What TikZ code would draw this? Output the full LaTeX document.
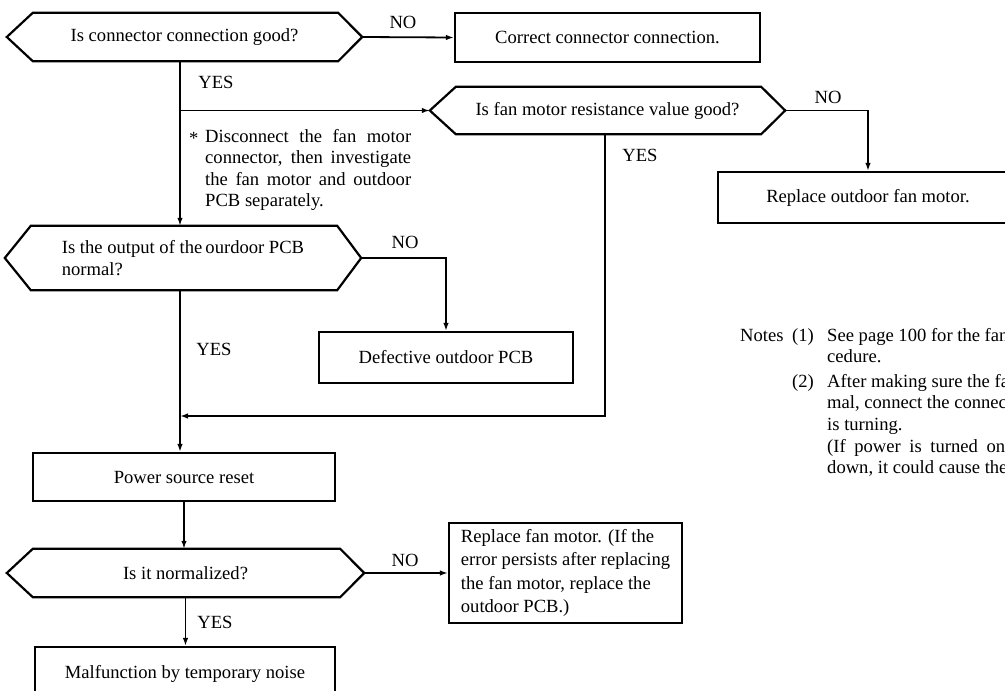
\documentclass[tikz,border=0pt]{standalone}
\usepackage{fontspec}
\setmainfont{Liberation Serif}
\usetikzlibrary{arrows.meta}
\tikzset{
  boxline/.style={line width=2.2pt, line join=miter},
  conn/.style={line width=1.8pt},
  arr/.style={conn, -{Latex[length=8pt,width=5.5pt]}},
  procbox/.style={draw, boxline, rectangle, inner sep=0pt, align=center},
  hexnode/.style={rectangle, inner sep=0pt, align=center},
  lbl/.style={inner sep=0pt},
  txt/.style={inner sep=0pt, anchor=base west},
}
\newcommand{\hexoutline}[1]{%
  \draw[boxline] (#1.west) -- ([xshift=26pt]#1.north west) -- ([xshift=-24pt]#1.north east)
    -- (#1.east) -- ([xshift=-24pt]#1.south east) -- ([xshift=26pt]#1.south west) -- cycle;}
\begin{document}
\begin{tikzpicture}[x=1pt,y=-1pt,font=\fontsize{18.6}{21.5}\selectfont]
\useasboundingbox (0,0) rectangle (1005,691);
\clip (0,0) rectangle (1005,691);
\fill[white] (0,0) rectangle (1005,691);

% decision nodes
\node[hexnode, minimum width=355pt, minimum height=48pt] (h1) at (184.5,37) {Is connector connection good?};
\hexoutline{h1}
\node[hexnode, minimum width=355pt, minimum height=47pt] (h2) at (607.5,110.5) {Is fan motor resistance value good?};
\hexoutline{h2}
\node[hexnode, minimum width=356pt, minimum height=64pt, align=left, font=\fontsize{18.6}{22}\selectfont] (h3) at (183,258) {Is the output of the\,ourdoor PCB\\normal?};
\hexoutline{h3}
\node[hexnode, minimum width=357pt, minimum height=48pt] (h4) at (185.5,573) {Is it normalized?};
\hexoutline{h4}

% process boxes
\node[procbox, minimum width=305pt, minimum height=49pt] (b1) at (607.5,37.5) {Correct connector connection.};
\node[procbox, minimum width=300pt, minimum height=51pt] (rfm) at (868,197.5) {Replace outdoor fan motor.};
\node[procbox, minimum width=254pt, minimum height=51pt] (def) at (446,357.5) {Defective outdoor PCB};
\node[procbox, minimum width=302pt, minimum height=48pt] (pwr) at (184,477) {Power source reset};
\node[procbox, minimum width=233pt, minimum height=100pt, align=left, font=\fontsize{18.6}{23.3}\selectfont] (rfm2) at (565.5,573) {Replace fan motor. (If the\\error persists after replacing\\the fan motor, replace the\\outdoor PCB.)};
\node[procbox, minimum width=300pt, minimum height=53pt] (malf) at (185,673.5) {Malfunction by temporary noise};

% helper coordinates
\coordinate (mx) at (180,0);
\coordinate (ret) at (605,416);

% connectors
\draw[arr] (h1.east) -- (b1.west);
\draw[arr] (h1.south -| mx) -- (h3.north -| mx);
\draw[arr] (mx |- h2.west) -- (h2.west);
\draw[arr] (h2.east) -| (rfm.north);
\draw[arr] (h2.south -| ret) -- (ret) -- (mx |- ret);
\draw[arr] (h3.east) -| (def.north);
\draw[arr] (h3.south -| mx) -- (pwr.north -| mx);
\draw[arr] (pwr.south) -- (pwr.south |- h4.north);
\draw[arr] (h4.east) -- (rfm2.west);
\draw[arr] (h4.south) -- (h4.south |- malf.north);

% branch labels
\node[lbl] (no1) at (403,22) {NO};
\node[lbl] (yes1) at (216,82) {YES};
\node[lbl] (no2) at (828,97) {NO};
\node[lbl] (yes2) at (640,155) {YES};
\node[lbl] (no3) at (405,242) {NO};
\node[lbl] (yes3) at (214,349) {YES};
\node[lbl] (no4) at (405,560) {NO};
\node[lbl] (yes4) at (215,622) {YES};

% remark on the YES branch
\node[txt] (star) at (189,144) {*};
\node[txt] (n1) at (205,142) {\makebox[206pt][s]{Disconnect the fan motor}};
\node[txt] (n2) at (205,163) {\makebox[206pt][s]{connector, then investigate}};
\node[txt] (n3) at (205,185) {\makebox[206pt][s]{the fan motor and outdoor}};
\node[txt] (n4) at (205,206) {PCB separately.};

% notes (cut by the right edge, as in the source)
\node[txt] (nt0) at (740,341) {Notes};
\node[txt] (nt1) at (792,341) {(1)};
\node[txt] (nt1a) at (827,341) {See page 100 for the fan};
\node[txt] (nt1b) at (827,362) {cedure.};
\node[txt] (nt2) at (792,387) {(2)};
\node[txt] (nt2a) at (827,387) {After making sure the fan};
\node[txt] (nt2b) at (827,408) {mal, connect the connector};
\node[txt] (nt2c) at (827,430) {is turning.};
\node[txt] (nt2d) at (827,452) {\makebox[178pt][s]{(If power is turned on}};
\node[txt] (nt2e) at (827,473) {down, it could cause the};
\end{tikzpicture}
\end{document}
